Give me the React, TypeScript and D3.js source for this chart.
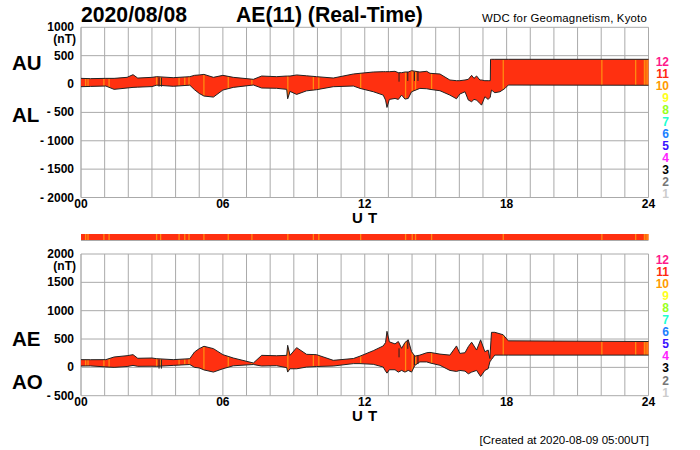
import * as d3 from "d3";

// knots (hours UT)
const topHours = [0, 0.4, 1.05, 1.4, 1.95, 2.2, 2.4, 3.0, 3.2, 3.9, 4.6, 4.8, 5.0, 5.2, 5.6, 6.0, 6.44, 7.29, 7.64, 8.27, 8.7, 8.74, 8.84, 9.12, 9.54, 9.96, 10.67, 11.52, 11.8, 12.36, 12.78, 12.88, 12.94, 13.04, 13.28, 13.42, 13.56, 13.7, 13.84, 13.98, 14.33, 14.62, 14.76, 15.18, 15.6, 15.88, 16.02, 16.24, 16.38, 16.52, 16.62, 16.73, 16.87, 16.94, 17.08, 17.22, 17.31, 17.32, 17.36, 17.5, 17.72, 17.93, 18.07, 24];
const au = [100, 95, 100, 100, 118, 165, 105, 118, 130, 112, 130, 153, 160, 170, 118, 153, 118, 83, 141, 130, 141, 141, 141, 160, 145, 130, 106, 177, 189, 212, 218, 218, 218, 218, 224, 200, 200, 212, 212, 236, 212, 224, 189, 177, 71, 59, 59, 71, 83, 153, 100, 142, 71, 71, 59, 59, 59, 436, 436, 436, 436, 436, 436, 436];
const al = [-47, -42, -35, -94, -70, -59, -55, -45, -20, -40, -20, -100, -165, -212, -230, -106, -59, -17, -70, -75, -94, -260, -130, -183, -120, -100, -47, -35, -77, -135, -195, -283, -413, -271, -254, -271, -195, -265, -254, -136, -77, -83, -94, -118, -195, -260, -177, -136, -283, -312, -271, -283, -342, -372, -224, -271, -230, -195, -106, -153, -136, -77, -18, -22];

const bottomHours = [0, 0.4, 1.05, 1.4, 1.95, 2.2, 2.4, 3.0, 3.2, 3.9, 4.6, 4.8, 5.0, 5.2, 5.6, 6.0, 6.44, 7.29, 7.64, 8.27, 8.7, 8.74, 8.84, 9.12, 9.54, 9.96, 10.67, 11.52, 11.8, 12.36, 12.78, 12.88, 12.94, 13.04, 13.28, 13.42, 13.56, 13.7, 13.84, 13.98, 14.12, 14.33, 14.62, 14.76, 15.18, 15.6, 15.88, 16.02, 16.24, 16.38, 16.52, 16.73, 16.9, 17.08, 17.22, 17.29, 17.36, 17.5, 17.85, 18.07, 24];
const ae = [136, 135, 136, 183, 206, 224, 160, 165, 153, 136, 153, 271, 330, 372, 330, 224, 165, 77, 212, 205, 212, 389, 212, 348, 230, 224, 124, 156, 198, 294, 378, 438, 636, 450, 414, 456, 336, 438, 486, 276, 198, 216, 258, 264, 234, 216, 378, 246, 258, 366, 444, 306, 486, 276, 306, 156, 618, 618, 576, 468, 456];
const ao = [24, 26, 8, 0, 15, 35, 18, 20, 18, 35, 50, 0, -10, -45, -83, -25, 28, 50, 24, 30, -5, -83, -25, -25, 5, 15, 24, 66, 66, 54, 6, -66, -102, -42, -42, -84, -54, -84, -54, -84, 36, 96, 96, 78, 36, -54, -72, -54, -66, -114, -84, -54, -162, -54, -24, 96, 138, 216, 216, 216, 216];

// orange columns: hours where fewer stations reported
const lowStationHours = [0.17, 0.27, 0.94, 1.16, 3.17, 3.34, 4.12, 4.36, 4.54, 5.17, 6.2, 7.2, 8.72, 9.8, 10.03, 11.8, 13.7, 13.98, 14.12, 14.8, 17.83, 22.0, 23.43, 23.8, 23.87, 23.94];
const darkBarHours = [3.3, 3.4, 13.45, 13.82, 14.1, 14.25];

const topTicks = [1000, 500, 0, -500, -1000, -1500, -2000];
const bottomTicks = [2000, 1500, 1000, 500, 0, -500];
const hourLabels = ["00", "06", "12", "18", "24"];
const stationLabels = ["12", "11", "10", "9", "8", "7", "6", "5", "4", "3", "2", "1"];
const stationColors = ["#ff1a8c", "#ff2a10", "#ff9a00", "#ffff20", "#99ff20", "#20ffd0", "#1a80ff", "#3a10ff", "#ff20ff", "#000000", "#777777", "#cccccc"];

const font = "'Liberation Sans', Arial, sans-serif";
const RED = "#ff3010";
const ORANGE = "#ff9a10";
const GRID = "#aaaaaa";

const x = d3.scaleLinear().domain([0, 24]).range([81, 648.5]);
const yTop = d3.scaleLinear().domain([-2000, 1000]).range([197.5, 27.3]);
const yBottom = d3.scaleLinear().domain([-500, 2000]).range([395.7, 254]);

const tickText = (v: number) => (v < 0 ? `- ${-v}` : `${v}`);

type PanelProps = {
  id: string;
  y: d3.ScaleLinear<number, number>;
  ticks: number[];
  hours: number[];
  upper: number[];
  lower: number[];
  names: [string, number][];
  legendY: number;
};

const Panel = ({ id, y, ticks, hours, upper, lower, names, legendY }: PanelProps) => {
  const idx = d3.range(hours.length);
  const area = d3
    .area<number>()
    .x((i) => x(hours[i]))
    .y0((i) => y(lower[i]))
    .y1((i) => y(upper[i]));
  const topLine = d3.line<number>().x((i) => x(hours[i])).y((i) => y(upper[i]));
  const bottomLine = d3.line<number>().x((i) => x(hours[i])).y((i) => y(lower[i]));
  const bisect = d3.bisector((h: number) => h).left;
  const [top, bottom] = y.range().slice().reverse();

  return (
    <g>
      <clipPath id={id}>
        <path d={area(idx) ?? ""} />
      </clipPath>
      {d3.range(0, 25).map((h) => (
        <line key={h} x1={x(h)} x2={x(h)} y1={top} y2={bottom} stroke={h === 0 ? "#888" : GRID} strokeWidth={1} />
      ))}
      {ticks.map((t) => (
        <line key={t} x1={x(0)} x2={x(24)} y1={y(t)} y2={y(t)} stroke={GRID} strokeWidth={1} />
      ))}
      <path d={area(idx) ?? ""} fill={RED} />
      <g clipPath={`url(#${id})`}>
        {lowStationHours.map((h) => (
          <rect key={h} x={x(h)} width={1.3} y={top} height={bottom - top} fill={ORANGE} opacity={0.85} />
        ))}
      </g>
      {darkBarHours.map((h) => {
        const i = Math.min(bisect(hours, h), hours.length - 1);
        return <line key={h} x1={x(h)} x2={x(h)} y1={y(upper[i])} y2={y(upper[i]) + 9} stroke="#222" strokeWidth={1} />;
      })}
      <path d={topLine(idx) ?? ""} fill="none" stroke="#222" strokeWidth={1} />
      <path d={bottomLine(idx) ?? ""} fill="none" stroke="#222" strokeWidth={1} />
      {ticks.map((t) => (
        <text key={t} x={74} y={y(t) + 4} textAnchor="end" fontFamily={font} fontWeight="bold" fontSize={12}>
          {tickText(t)}
        </text>
      ))}
      <text x={76} y={top + 15.5} textAnchor="end" fontFamily={font} fontWeight="bold" fontSize={12}>
        (nT)
      </text>
      {hourLabels.map((l) => (
        <text key={l} x={x(+l)} y={bottom + 10} textAnchor="middle" fontFamily={font} fontWeight="bold" fontSize={12}>
          {l}
        </text>
      ))}
      <text x={x(12)} y={bottom + 25} textAnchor="middle" fontFamily={font} fontWeight="bold" fontSize={15} letterSpacing={0.5}>
        U T
      </text>
      {names.map(([n, ny]) => (
        <text key={n} x={12} y={ny} fontFamily={font} fontWeight="bold" fontSize={20.5}>
          {n}
        </text>
      ))}
      {stationLabels.map((l, i) => (
        <text key={l} x={669} y={legendY + i * 12.05} textAnchor="end" fontFamily={font} fontWeight="bold" fontSize={12} fill={stationColors[i]}>
          {l}
        </text>
      ))}
    </g>
  );
};

export default function App() {
  return (
    <svg width={700} height={450} style={{ position: "absolute", left: 0, top: 0, background: "#fff" }}>
      <text x={81} y={22} fontFamily={font} fontWeight="bold" fontSize={21.2}>
        2020/08/08
      </text>
      <text x={236} y={22} fontFamily={font} fontWeight="bold" fontSize={21.2}>
        AE(11) (Real-Time)
      </text>
      <text x={647} y={22} textAnchor="end" fontFamily={font} fontSize={11.4} letterSpacing={0.2}>
        WDC for Geomagnetism, Kyoto
      </text>
      <Panel id="clipTop" y={yTop} ticks={topTicks} hours={topHours} upper={au} lower={al} names={[["AU", 70], ["AL", 122]]} legendY={65.5} />
      <rect x={x(0)} y={234} width={x(24) - x(0)} height={6} fill={RED} />
      {lowStationHours.map((h) => (
        <rect key={h} x={x(h)} y={234} width={1.3} height={6} fill={ORANGE} opacity={0.85} />
      ))}
      <line x1={x(0)} x2={x(24)} y1={240.5} y2={240.5} stroke="#aaa" />
      <Panel id="clipBottom" y={yBottom} ticks={bottomTicks} hours={bottomHours} upper={ae} lower={ao} names={[["AE", 346], ["AO", 389]]} legendY={264} />
      <text x={649} y={444} textAnchor="end" fontFamily={font} fontSize={11.5}>
        [Created at 2020-08-09 05:00UT]
      </text>
    </svg>
  );
}
